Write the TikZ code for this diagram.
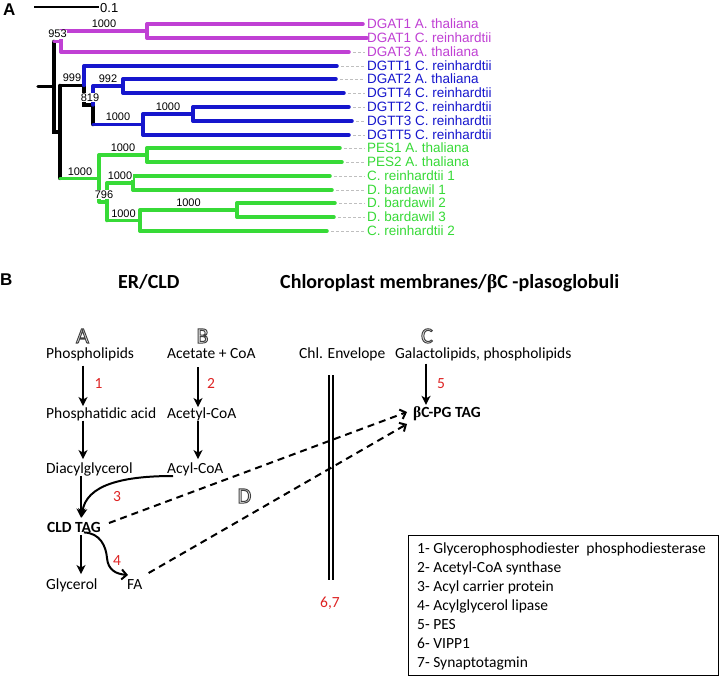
\documentclass[tikz,border=0pt]{standalone}
\usepackage{fontspec}
\setmainfont{Carlito}
\newfontfamily\arialf{Liberation Sans}
\newfontfamily\tnrf{Liberation Serif}
\usetikzlibrary{arrows.meta,calc}
\definecolor{tpink}{RGB}{192,64,212}
\definecolor{tblue}{RGB}{22,22,205}
\definecolor{tgreen}{RGB}{55,218,55}
\definecolor{tred}{RGB}{222,36,36}
\tikzset{
  tree/.style={line width=3.5pt,line cap=round},
  leader/.style={gray!50,line width=0.6pt,dash pattern=on 2.5pt off 2.5pt},
  tipl/.style={anchor=base west,inner sep=0pt,font=\arialf\fontsize{13.5}{14}\selectfont},
  bs/.style={anchor=base,inner sep=0.5pt,fill=white,font=\arialf\fontsize{11}{12}\selectfont},
  txt/.style={anchor=base west,inner sep=0pt,font=\fontsize{15.5}{18}\selectfont},
  ttl/.style={anchor=base west,inner sep=0pt,font=\bfseries\fontsize{20}{22}\selectfont},
  num/.style={anchor=base,inner sep=0pt,text=tred,font=\fontsize{15.5}{18}\selectfont},
  olet/.style={anchor=base,inner sep=0pt,font=\fontsize{22}{24}\selectfont},
  arr/.style={line width=2pt,-{Stealth[length=9pt,width=9pt,inset=2.5pt]}},
  barb/.style={line width=2pt,-{Straight Barb[length=5pt,width=10pt]}},
  darr/.style={line width=2pt,dash pattern=on 7pt off 5pt,-{Straight Barb[length=5pt,width=10pt]}},
  panel/.style={anchor=base west,inner sep=0pt,font=\arialf\bfseries\fontsize{17}{18}\selectfont},
}
\newcommand\tipx[6]{%
  \draw[tree,#5] (#3,#2) -- (#4,#2);
  \ifdim #4pt<358pt \draw[leader] (#4+4,#2) -- (365,#2);\fi
  \node[tipl,text=#5] (#1) at (367,#2+4.8) {#6};
}
\newcommand\outlinetext[1]{\special{pdf:literal direct 1 Tr 1 w}#1\special{pdf:literal direct 0 Tr}}
\newcommand\oletter[4]{%
  \node[olet,text=black!75] (#1) at (#2,#3) {\outlinetext{#4}};
}
\begin{document}
\begin{tikzpicture}[x=1pt,y=-1pt]
\useasboundingbox[fill=white] (0,0) rectangle (722,682);
% ---------------- panel A ----------------
\node[panel] (pA) at (3,16) {A};
\draw[line width=1.3pt] (34,7) -- (99,7);
\node[anchor=base west,inner sep=0pt,font=\arialf\fontsize{13}{14}\selectfont] (sbar) at (100,12.5) {0.1};
% black backbone
\draw[tree,black] (38,86.75) -- (54,86.75);
\draw[tree,black] (54,41.5) -- (54,132) -- (60,132);
\draw[tree,black] (60,85.5) -- (60,178.4);
\draw[tree,black] (60,85.5) -- (84,85.5) -- (84,105) -- (93,105) -- (93,124.5);
% pink clade
\draw[tree,tpink] (54,41.5) -- (61,41.5);
\draw[tree,tpink] (61,31) -- (61,52);
\draw[tree,tpink] (61,31) -- (147,31);
\draw[tree,tpink] (147,24) -- (147,38);
% blue clade
\draw[tree,tblue] (84,66) -- (84,85.5);
\draw[tree,tblue] (93,86) -- (93,105);
\draw[tree,tblue] (93,86) -- (123,86);
\draw[tree,tblue] (123,79) -- (123,93);
\draw[tree,tblue] (93,124.5) -- (143,124.5);
\draw[tree,tblue] (143,114) -- (143,135);
\draw[tree,tblue] (143,114) -- (193,114);
\draw[tree,tblue] (193,107) -- (193,121);
% green clade
\draw[tree,tgreen] (60,178.4) -- (99,178.4);
\draw[tree,tgreen] (99,155) -- (99,201.75);
\draw[tree,tgreen] (99,155) -- (147,155);
\draw[tree,tgreen] (147,148) -- (147,162);
\draw[tree,tgreen] (99,201.75) -- (107,201.75);
\draw[tree,tgreen] (107,183) -- (107,220.5);
\draw[tree,tgreen] (107,183) -- (133,183);
\draw[tree,tgreen] (133,176) -- (133,190);
\draw[tree,tgreen] (107,220.5) -- (140,220.5);
\draw[tree,tgreen] (140,210) -- (140,231);
\draw[tree,tgreen] (140,210) -- (237,210);
\draw[tree,tgreen] (237,203) -- (237,217);
% tips
\tipx{t1}{24}{147}{363}{tpink}{DGAT1 A. thaliana}
\tipx{t2}{38}{147}{367}{tpink}{DGAT1 C. reinhardtii}
\tipx{t3}{52}{61}{349}{tpink}{DGAT3 A. thaliana}
\tipx{t4}{66}{84}{337}{tblue}{DGTT1 C. reinhardtii}
\tipx{t5}{79}{123}{336}{tblue}{DGAT2 A. thaliana}
\tipx{t6}{93}{123}{344}{tblue}{DGTT4 C. reinhardtii}
\tipx{t7}{107}{193}{349}{tblue}{DGTT2 C. reinhardtii}
\tipx{t8}{121}{193}{352}{tblue}{DGTT3 C. reinhardtii}
\tipx{t9}{135}{143}{349}{tblue}{DGTT5 C. reinhardtii}
\tipx{t10}{148}{147}{340}{tgreen}{PES1 A. thaliana}
\tipx{t11}{162}{147}{342}{tgreen}{PES2 A. thaliana}
\tipx{t12}{176}{133}{330}{tgreen}{C. reinhardtii 1}
\tipx{t13}{190}{133}{332}{tgreen}{D. bardawil 1}
\tipx{t14}{203}{237}{335}{tgreen}{D. bardawil 2}
\tipx{t15}{217}{237}{334}{tgreen}{D. bardawil 3}
\tipx{t16}{231}{140}{327}{tgreen}{C. reinhardtii 2}
% bootstrap values
\node[bs] (b1) at (104,27.5) {1000};
\node[bs] (b2) at (57.5,38) {953};
\node[bs] (b3) at (72,82) {999};
\node[bs] (b4) at (108,82.5) {992};
\node[bs] (b5) at (90,101.5) {819};
\node[bs] (b6) at (118,121) {1000};
\node[bs] (b7) at (168,110.5) {1000};
\node[bs] (b8) at (123,151.5) {1000};
\node[bs] (b9) at (80,175) {1000};
\node[bs] (b10) at (120,179.5) {1000};
\node[bs] (b11) at (104,198.5) {796};
\node[bs] (b12) at (123.5,217) {1000};
\node[bs] (b13) at (188.5,206.5) {1000};
% ---------------- panel B ----------------
\node[panel] (pB) at (0,285) {B};
\node[ttl] (ter) at (118,288) {ER/CLD};
\node[ttl] (tchl) at (280,288) {Chloroplast membranes/{\tnrf β}C -plasoglobuli};
\oletter{oA}{82.5}{343}{A}
\oletter{oB}{202.5}{343}{B}
\oletter{oC}{427}{343}{C}
\oletter{oD}{244.5}{503}{D}
\node[txt] (phos) at (46,358) {Phospholipids};
\node[txt] (acet) at (167,358) {Acetate + CoA};
\node[txt] (chl) at (299,358) {Chl. Envelope};
\node[txt] (gala) at (395,358) {Galactolipids, phospholipids};
\node[txt] (pa) at (46,418) {Phosphatidic acid};
\node[txt] (acoa) at (167,418) {Acetyl-CoA};
\node[txt] (dag) at (46,473) {Diacylglycerol};
\node[txt] (acyl) at (167,473) {Acyl-CoA};
\node[txt,font=\bfseries\fontsize{15.5}{18}\selectfont] (tag) at (47,532) {CLD TAG};
\node[txt] (gly) at (46,589) {Glycerol};
\node[txt] (fa) at (127,589) {FA};
\node[txt,font=\bfseries\fontsize{15.5}{18}\selectfont] (bc) at (413,417) {{\tnrf β}C-PG TAG};
\coordinate (colA) at (83,0);
\coordinate (colB) at (198,0);
\coordinate (colC) at (81,0);
\coordinate (colE) at (426,0);
\draw[arr,shorten <=5pt,shorten >=1pt] (phos.south -| colA) -- (pa.north -| colA);
\draw[arr,shorten >=3pt] (pa.south -| colA) -- (dag.north -| colA);
\draw[arr,shorten <=9pt] (acet.south -| colB) -- (acoa.north -| colB);
\draw[arr,shorten >=3pt] (acoa.south -| colB) -- (acyl.north -| colB);
\draw[arr,shorten >=4pt] (dag.south -| colC) -- (tag.north -| colC);
\draw[arr,shorten <=3pt,shorten >=4pt] (tag.south -| colC) -- (gly.north -| colC);
\draw[arr,shorten <=3pt,shorten >=1pt] (gala.south -| colE) -- (bc.north -| colE);
\draw[arr,shorten >=4pt] ($(acyl.base west)+(6,3)$) .. controls (122,476) and (86,485) .. (tag.north -| colC);
\draw[barb,shorten <=3pt] (tag.south -| colC) .. controls (100,533) and (106,546) .. (107,558) .. controls (108,570) and (116,574) .. ($(fa.base west)+(1,-14)$);
\coordinate (d1) at (407,412);
\coordinate (d2) at (407,424);
\draw[darr] ($(tag.base east)+(8,-9)$) -- (d1);
\draw[darr] ($(fa.base east)+(6,-16)$) -- (d2);
\draw[line width=1.2pt] (329,375) -- (329,580);
\draw[line width=1.2pt] (333,375) -- (333,580);
\node[num] (n1) at (98.5,388) {1};
\node[num] (n2) at (211,388) {2};
\node[num] (n3) at (117,501) {3};
\node[num] (n4) at (117,565) {4};
\node[num] (n5) at (441,388) {5};
\node[num] (n67) at (330,607) {6,7};
% legend
\draw[line width=0.9pt] (408,535) rectangle (718,675);
\node[txt] (l1) at (417,553) {1- Glycerophosphodiester\ \ phosphodiesterase};
\node[txt] (l2) at (417,572) {2- Acetyl-CoA synthase};
\node[txt] (l3) at (417,591) {3- Acyl carrier protein};
\node[txt] (l4) at (417,610) {4- Acylglycerol lipase};
\node[txt] (l5) at (417,629) {5- PES};
\node[txt] (l6) at (417,648) {6- VIPP1};
\node[txt] (l7) at (417,667) {7- Synaptotagmin};
\end{tikzpicture}
\end{document}
